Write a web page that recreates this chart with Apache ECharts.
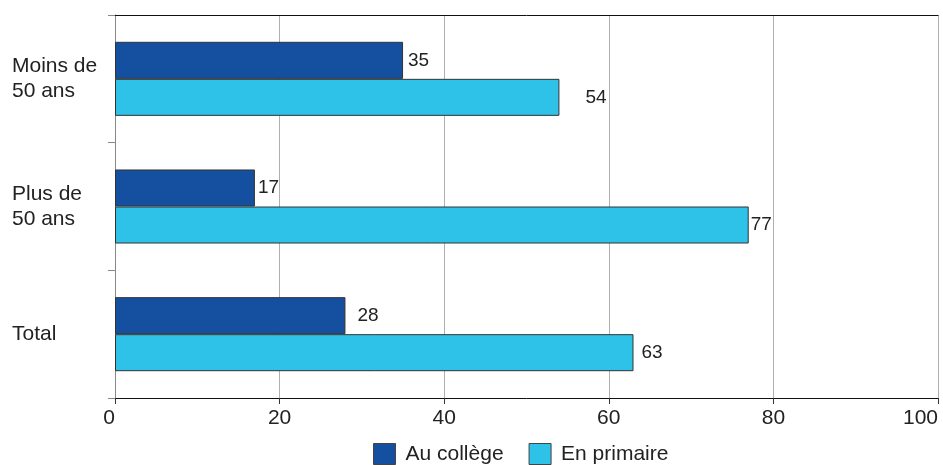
<!DOCTYPE html>
<html><head><meta charset="utf-8">
<script src="https://cdn.jsdelivr.net/npm/echarts@6/dist/echarts.min.js"></script>
<style>html,body{margin:0;padding:0;background:#fff}#c{width:943px;height:465px}</style>
</head><body><div id="c"></div>
<script>
const categories = ['Moins de\n50 ans', 'Plus de\n50 ans', 'Total'];
const seriesNames = ['Au collège', 'En primaire'];
const auCollege = [35, 17, 28];
const enPrimaire = [54, 77, 63];
const xTicks = [0, 20, 40, 60, 80, 100];

// styling only (label gaps as in the original, category label nudges)
const labelGapCollege = [5, 3, 12];
const labelGapPrimaire = [26, 2, 8];
const catPad = [[0, 0, 7, 0], [0, 0, 7, 0], [9, 0, 0, 0]];

const FONT = 'Arial, "Liberation Sans", sans-serif';
const chart = echarts.init(document.getElementById('c'), null, {renderer: 'canvas'});
const labelBase = {show: true, position: 'right', color: '#222', fontSize: 19, fontFamily: FONT};
const mk = (vals, gaps) => vals.map((v, i) => ({value: v, label: Object.assign({}, labelBase, {distance: gaps[i]})}));
const catLabel = {align: 'left', fontSize: 21, lineHeight: 25, color: '#222', fontFamily: FONT};
chart.setOption({
  animation: false,
  textStyle: {fontFamily: FONT},
  grid: {left: 115, right: 5, top: 15, bottom: 67, containLabel: false, outerBoundsMode: 'none'},
  legend: {
    top: 438, left: 368, itemWidth: 22, itemHeight: 21, itemGap: 25, icon: 'rect',
    itemStyle: {borderColor: '#444', borderWidth: 1},
    textStyle: {fontSize: 21, color: '#222', fontFamily: FONT, padding: [0, 0, 0, 5]},
    data: seriesNames
  },
  xAxis: [{
    type: 'value', min: xTicks[0], max: xTicks[xTicks.length - 1], interval: xTicks[1] - xTicks[0],
    axisLine: {show: true, lineStyle: {color: '#111', width: 1}},
    axisTick: {show: true, length: 6, lineStyle: {color: '#333'}},
    axisLabel: {fontSize: 21, color: '#222', margin: 10, fontFamily: FONT, alignMinLabel: 'right', alignMaxLabel: 'right'},
    splitLine: {show: true, lineStyle: {color: '#b0b0b0', width: 1}}
  }, {
    type: 'value', position: 'top', min: 0, max: 100,
    axisLine: {show: true, lineStyle: {color: '#111', width: 1}},
    axisTick: {show: false}, axisLabel: {show: false}, splitLine: {show: false}
  }],
  yAxis: {
    type: 'category', inverse: true,
    data: categories.map((c, i) => ({value: c, textStyle: Object.assign({}, catLabel, {padding: catPad[i]})})),
    axisLine: {show: true, lineStyle: {color: '#888'}},
    axisTick: {show: true, length: 7, lineStyle: {color: '#888'}},
    axisLabel: Object.assign({margin: 103}, catLabel)
  },
  series: [{
    name: seriesNames[0], type: 'bar', data: mk(auCollege, labelGapCollege), barCategoryGap: '42%', barGap: '0%',
    itemStyle: {color: '#1550a0', borderColor: '#333', borderWidth: 1},
    label: labelBase
  }, {
    name: seriesNames[1], type: 'bar', data: mk(enPrimaire, labelGapPrimaire), barCategoryGap: '42%', barGap: '0%',
    itemStyle: {color: '#2ec2e8', borderColor: '#333', borderWidth: 1},
    label: labelBase
  }]
});
</script></body></html>
